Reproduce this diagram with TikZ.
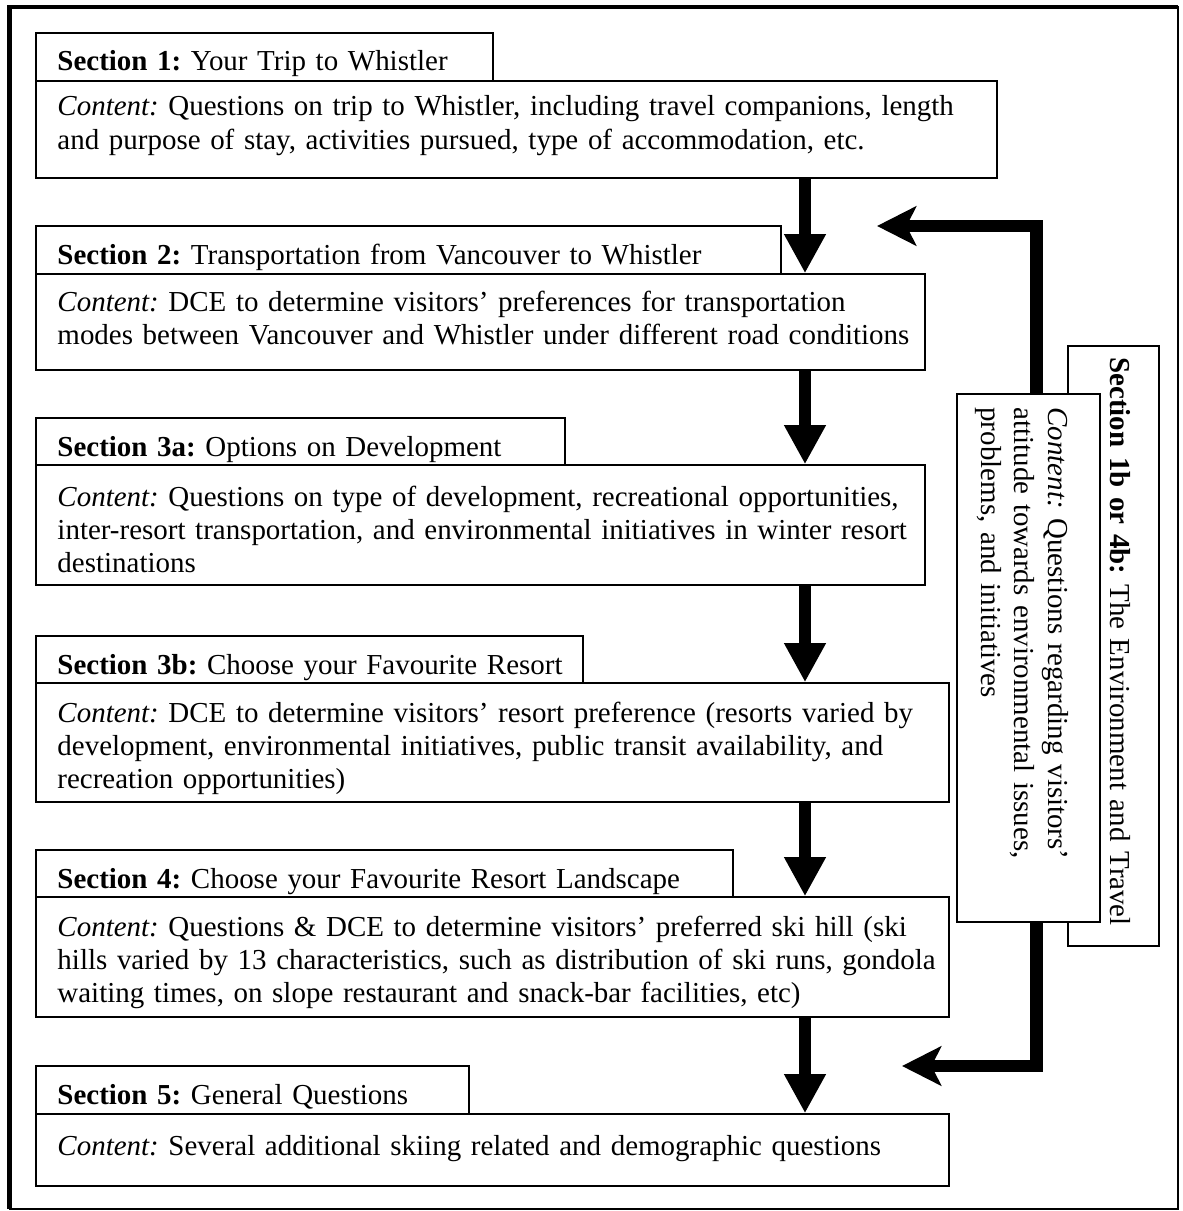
\documentclass[tikz,border=0pt]{standalone}
\usepackage{fontspec}
\setmainfont{Liberation Serif}
\frenchspacing
\usetikzlibrary{arrows.meta, fit}

\tikzset{
  box/.style={draw, line width=0.6pt, fill=white, inner sep=0pt},
  txt/.style={anchor=base west, inner sep=0pt, text width=430pt, align=left,
    font=\fontsize{12}{13.8}\selectfont},
  flow/.style={line width=5pt, -{Triangle[length=16.2pt, width=16.2pt]}},
  back/.style={line width=5pt, -{Stealth[length=16.2pt, width=16.2pt, inset=4pt]}}
}

\begin{document}
\begin{tikzpicture}[x=0.4144pt, y=-0.4144pt]
  \useasboundingbox (0,0) rectangle (1183,1211);
  % outer frame
  \draw[line width=0.6pt] (9.5,7) rectangle (1178,1209);
  \draw[line width=2pt] (9.5,1209) -- (9.5,7) -- (1178,7);

  % section 1
  \node[box, fit={(36,33) (493,81)}] (t1) {};
  \node[box, fit={(36,81) (997,178)}] (c1) {};
  \node[txt] (t1x) at (57,71) {\textbf{Section 1:} Your Trip to Whistler};
  \node[txt] (c1x) at (57,116) {\textit{Content:} Questions on trip to Whistler, including travel companions, length\\
    and purpose of stay, activities pursued, type of accommodation, etc.};

  % section 2
  \node[box, fit={(36,226) (781,274)}] (t2) {};
  \node[box, fit={(36,274) (925,370)}] (c2) {};
  \node[txt] (t2x) at (57,264) {\textbf{Section 2:} Transportation from Vancouver to Whistler};
  \node[txt] (c2x) at (57,311) {\textit{Content:} DCE to determine visitors' preferences for transportation\\
    modes between Vancouver and Whistler under different road conditions};

  % section 3a
  \node[box, fit={(36,418) (565,465)}] (t3) {};
  \node[box, fit={(36,465) (925,585)}] (c3) {};
  \node[txt] (t3x) at (57,456) {\textbf{Section 3a:} Options on Development};
  \node[txt] (c3x) at (57,506) {\textit{Content:} Questions on type of development, recreational opportunities,\\
    inter-resort transportation, and environmental initiatives in winter resort\\
    destinations};

  % section 3b
  \node[box, fit={(36,636) (583,683)}] (t4) {};
  \node[box, fit={(36,683) (949,802)}] (c4) {};
  \node[txt] (t4x) at (57,674) {\textbf{Section 3b:} Choose your Favourite Resort};
  \node[txt] (c4x) at (57,722) {\textit{Content:} DCE to determine visitors' resort preference (resorts varied by\\
    development, environmental initiatives, public transit availability, and\\
    recreation opportunities)};

  % section 4
  \node[box, fit={(36,850) (733,897)}] (t5) {};
  \node[box, fit={(36,897) (949,1017)}] (c5) {};
  \node[txt] (t5x) at (57,888) {\textbf{Section 4:} Choose your Favourite Resort Landscape};
  \node[txt] (c5x) at (57,936) {\textit{Content:} Questions \& DCE to determine visitors' preferred ski hill (ski\\
    hills varied by 13 characteristics, such as distribution of ski runs, gondola\\
    waiting times, on slope restaurant and snack-bar facilities, etc)};

  % section 5
  \node[box, fit={(36,1066) (469,1114)}] (t6) {};
  \node[box, fit={(36,1114) (949,1186)}] (c6) {};
  \node[txt] (t6x) at (57,1104) {\textbf{Section 5:} General Questions};
  \node[txt] (c6x) at (57,1155) {\textit{Content:} Several additional skiing related and demographic questions};

  % side section, turned
  \node[box, fit={(1068,346) (1159,946)}] (vt) {};
  \node[box, fit={(957,394) (1100,922)}] (vc) {};
  \node[txt, rotate=-90] (vtx) at (1110,357) {\textbf{Section 1b or 4b:} The Environment and Travel};
  \node[txt, rotate=-90] (vcx) at (1048,407) {\textit{Content:} Questions regarding visitors'\\
    attitude towards environmental issues,\\
    problems, and initiatives};

  % main flow
  \coordinate (ax) at (805,0);
  \draw[flow] (c1.south -| ax) -- (c2.north -| ax);
  \draw[flow] (c2.south -| ax) -- (c3.north -| ax);
  \draw[flow] (c3.south -| ax) -- (c4.north -| ax);
  \draw[flow] (c4.south -| ax) -- (c5.north -| ax);
  \draw[flow] (c5.south -| ax) -- (c6.north -| ax);

  % loop back from the side section
  \coordinate (lx) at (1036.5,0);
  \coordinate (in1) at (877,226);
  \coordinate (in2) at (902,1066);
  \draw[back] (vc.north -| lx) |- (in1);
  \draw[back] (vc.south -| lx) |- (in2);
\end{tikzpicture}
\end{document}
